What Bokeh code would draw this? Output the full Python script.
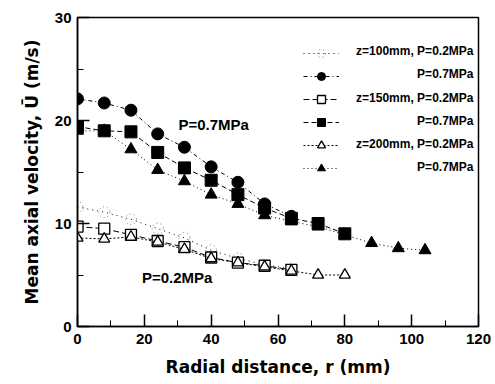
from bokeh.plotting import figure
from bokeh.models import Legend, LegendItem, Label, FixedTicker
from bokeh.embed import file_html
from bokeh.resources import INLINE

# radial positions (mm) and mean axial velocity (m/s)
r_c07 = [0, 8, 16, 24, 32, 40, 48, 56, 64]
u_c07 = [22.1, 21.7, 21.0, 18.7, 17.4, 15.5, 14.0, 11.9, 10.7]
r_c02 = [0, 8, 16, 24, 32, 40, 48, 56, 64]
u_c02 = [11.6, 11.1, 10.4, 9.5, 8.6, 7.4, 6.6, 6.0, 5.6]
r_s07 = [0, 8, 16, 24, 32, 40, 48, 56, 64, 72, 80]
u_s07 = [19.4, 19.0, 18.9, 16.9, 15.4, 14.2, 12.8, 11.5, 10.5, 10.0, 9.0]
r_s02 = [0, 8, 16, 24, 32, 40, 48, 56, 64]
u_s02 = [9.7, 9.5, 8.9, 8.3, 7.7, 6.7, 6.2, 5.9, 5.5]
r_t07 = [0, 8, 16, 24, 32, 40, 48, 56, 64, 72, 80, 88, 96, 104]
u_t07 = [19.0, 19.0, 17.2, 15.2, 14.1, 12.8, 11.9, 10.8, 10.2, 9.7, 8.9, 8.1, 7.6, 7.4]
r_t02 = [0, 8, 16, 24, 32, 40, 48, 56, 64, 72, 80]
u_t02 = [8.6, 8.5, 8.7, 8.2, 7.5, 6.6, 6.2, 5.8, 5.4, 5.0, 5.0]

labels = ["z=100mm, P=0.2MPa", "P=0.7MPa", "z=150mm, P=0.2MPa",
          "P=0.7MPa", "z=200mm, P=0.2MPa", "P=0.7MPa"]

FONT = "Liberation Sans"
LFONT = "DejaVu Sans"

p = figure(width=495, height=384, x_range=(0, 120), y_range=(0, 30),
           output_backend="svg", toolbar_location=None,
           min_border_left=77, min_border_right=17, min_border_top=17, min_border_bottom=58)
p.grid.visible = False
p.outline_line_color = "black"
p.outline_line_width = 1.5
p.background_fill_color = "white"
p.border_fill_color = "white"

for ax in (p.xaxis[0], p.yaxis[0]):
    ax.major_label_text_font = FONT
    ax.major_label_text_font_style = "bold"
    ax.major_label_text_font_size = "15px"
    ax.major_label_text_color = "black"
    ax.axis_label_text_font = LFONT
    ax.axis_label_text_font_style = "bold"
    ax.axis_label_text_color = "black"
    ax.axis_line_width = 1.5
    ax.axis_line_color = "black"
    ax.major_tick_line_color = "black"
    ax.minor_tick_line_color = "black"
    ax.major_tick_in = 12
    ax.major_tick_out = 0
    ax.minor_tick_in = 6
    ax.minor_tick_out = 0
    ax.major_tick_line_width = 1.5

p.xaxis.axis_label_text_font_size = "17px"
p.yaxis.axis_label_text_font_size = "17px"
p.xaxis.ticker = FixedTicker(ticks=[0, 20, 40, 60, 80, 100, 120],
                             minor_ticks=[10, 30, 50, 70, 90, 110])
p.yaxis.ticker = FixedTicker(ticks=[0, 10, 20, 30], minor_ticks=[5, 15, 25])
p.xaxis.axis_label = "Radial distance, r (mm)"
p.yaxis.axis_label = "Mean axial velocity, \u016a (m/s)"
p.xaxis.major_label_standoff = 7
p.yaxis.major_label_standoff = 6
p.xaxis.axis_label_standoff = 10
p.yaxis.axis_label_standoff = 10

# z=100, P=0.2 (dotted)
l1 = p.line(r_c02, u_c02, line_color="black", line_dash="1 4", line_width=1)
m1 = p.scatter(r_c02, u_c02, marker="circle", size=11, fill_color=None,
               line_color="#777777", line_dash="1 3", line_width=1)
# z=100, P=0.7
l2 = p.line(r_c07, u_c07, line_color="black", line_dash="4 3 1 3", line_width=1)
m2 = p.scatter(r_c07, u_c07, marker="circle", size=12, fill_color="black", line_color="black")
# z=150, P=0.2
l3 = p.line(r_s02, u_s02, line_color="black", line_dash="6 3", line_width=1)
m3 = p.scatter(r_s02, u_s02, marker="square", size=11, fill_color="white", line_color="black", line_width=1.3)
# z=150, P=0.7
l4 = p.line(r_s07, u_s07, line_color="black", line_dash="5 3", line_width=1)
m4 = p.scatter(r_s07, u_s07, marker="square", size=12, fill_color="black", line_color="black")
# z=200, P=0.2
l5 = p.line(r_t02, u_t02, line_color="black", line_dash="2 2", line_width=1)
m5 = p.scatter(r_t02, u_t02, marker="triangle", size=11, fill_color="white", line_color="black", line_width=1.3)
# z=200, P=0.7
l6 = p.line(r_t07, u_t07, line_color="black", line_dash="1 3", line_width=1)
m6 = p.scatter(r_t07, u_t07, marker="triangle", size=12, fill_color="black", line_color="black")

pairs = [(l1, m1), (l2, m2), (l3, m3), (l4, m4), (l5, m5), (l6, m6)]
items = [LegendItem(label=" ", renderers=[l, m]) for l, m in pairs]
legend = Legend(items=items, location=(226, 148), border_line_color=None,
                background_fill_alpha=0, label_text_font_size="9px",
                label_width=1, label_height=20, glyph_width=36, glyph_height=20,
                spacing=3, padding=0, label_standoff=0)
p.add_layout(legend)

# right-aligned legend texts
row_y = [26.75, 24.5, 22.2, 19.95, 17.7, 15.45]
for t, yy in zip(labels, row_y):
    p.add_layout(Label(x=118.5, y=yy, text=t, text_font=FONT,
                       text_font_style="bold", text_font_size="12px",
                       text_align="right", text_baseline="middle",
                       text_color="black"))

p.add_layout(Label(x=30.2, y=19.6, text="P=0.7MPa", text_font=FONT,
                   text_font_style="bold", text_font_size="15px",
                   text_baseline="middle", text_color="black"))
p.add_layout(Label(x=19.3, y=4.8, text="P=0.2MPa", text_font=FONT,
                   text_font_style="bold", text_font_size="15px",
                   text_baseline="middle", text_color="black"))

open("out.html", "w").write(file_html(p, INLINE))
